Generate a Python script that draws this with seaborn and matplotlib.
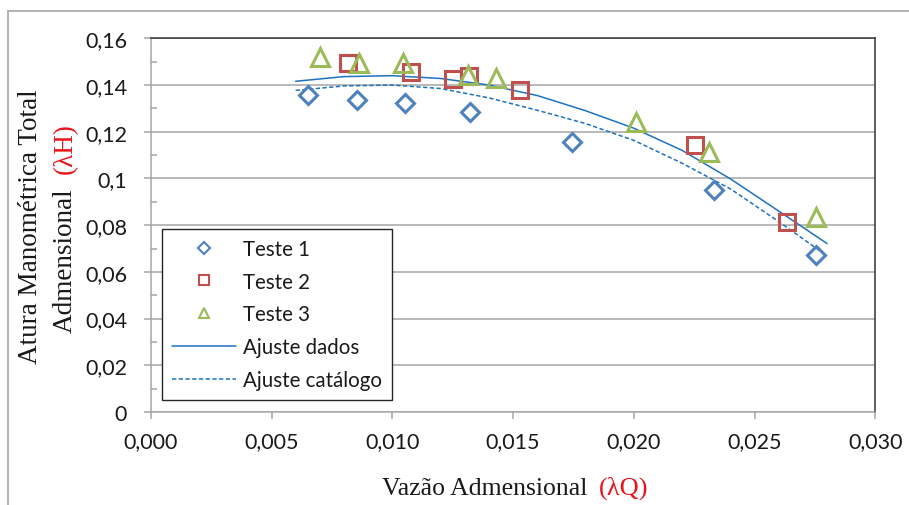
import matplotlib
matplotlib.use("Agg")
import matplotlib.pyplot as plt
import seaborn as sns
from matplotlib.lines import Line2D
from matplotlib.ticker import FixedLocator, FixedFormatter, MultipleLocator

# Measured points of the three pump tests (dimensionless flow x head)
q_teste1 = [0.00652, 0.00853, 0.01053, 0.01322, 0.01745, 0.02333, 0.02752]
h_teste1 = [0.1358, 0.1338, 0.1324, 0.1284, 0.1158, 0.0951, 0.0674]

q_teste2 = [0.00818, 0.01076, 0.01250, 0.01319, 0.01529, 0.02253, 0.02632]
h_teste2 = [0.1494, 0.1455, 0.1427, 0.1437, 0.1377, 0.1145, 0.0813]

q_teste3 = [0.00700, 0.00863, 0.01043, 0.01315, 0.01429, 0.02007, 0.02311, 0.02752]
h_teste3 = [0.1520, 0.1494, 0.1494, 0.1441, 0.1430, 0.1241, 0.1115, 0.0834]

# Fitted curves (data fit and catalogue fit)
q_ajuste = [0.006, 0.008, 0.010, 0.012, 0.014, 0.016, 0.018, 0.020, 0.022, 0.024, 0.026, 0.028]
h_ajuste_dados = [0.1416, 0.1436, 0.1440, 0.1428, 0.1400, 0.1355, 0.1290, 0.1215, 0.1120, 0.0998, 0.0860, 0.0721]
h_ajuste_catalogo = [0.1377, 0.1396, 0.1400, 0.1385, 0.1345, 0.1292, 0.1235, 0.1163, 0.1065, 0.0955, 0.0815, 0.0668]

x_ticks = [0.000, 0.005, 0.010, 0.015, 0.020, 0.025, 0.030]
x_tick_labels = ["0,000", "0,005", "0,010", "0,015", "0,020", "0,025", "0,030"]
y_ticks = [0.00, 0.02, 0.04, 0.06, 0.08, 0.10, 0.12, 0.14, 0.16]
y_tick_labels = ["0", "0,02", "0,04", "0,06", "0,08", "0,1", "0,12", "0,14", "0,16"]

sns.set_theme(style="white")
plt.rcParams['font.family'] = ['Lato', 'DejaVu Sans']

GRAY = '#A6A6A6'
TXT = '#1a1a1a'
FIT = '#1F72C0'
SERIF = ['Liberation Serif', 'DejaVu Serif']

fig = plt.figure(figsize=(9.09, 5.06), dpi=100)
fig.patch.set_facecolor('white')
ax = fig.add_axes([0.1658, 0.1838, 0.9631 - 0.1658, 0.9223 - 0.1838])

# fitted curves
sns.lineplot(x=q_ajuste, y=h_ajuste_dados, ax=ax, color=FIT, lw=1.1,
             estimator=None, sort=False, label='Ajuste dados', zorder=3)
sns.lineplot(x=q_ajuste, y=h_ajuste_catalogo, ax=ax, color=FIT, lw=1.1,
             linestyle=(0, (2.8, 1.6)), estimator=None, sort=False,
             label='Ajuste catálogo', zorder=3)

# measured points, open markers
sns.lineplot(x=q_teste1, y=h_teste1, ax=ax, color='#4F81BD', linestyle='',
             marker='D', markersize=8.9, mfc='none', mec='#4F81BD', mew=2.2,
             estimator=None, sort=False, label='Teste 1', zorder=4)
sns.lineplot(x=q_teste2, y=h_teste2, ax=ax, color='#C0504D', linestyle='',
             marker='s', markersize=12.2, mfc='none', mec='#C0504D', mew=2.2,
             estimator=None, sort=False, label='Teste 2', zorder=4)
sns.lineplot(x=q_teste3, y=h_teste3, ax=ax, color='#9BBB59', linestyle='',
             marker='^', markersize=12.4, mfc='none', mec='#9BBB59', mew=2.2,
             estimator=None, sort=False, label='Teste 3', zorder=4)

ax.set_xlim(0, 0.030)
ax.set_ylim(0, 0.16)
ax.set_xlabel('')
ax.set_ylabel('')

ax.xaxis.set_major_locator(FixedLocator(x_ticks))
ax.xaxis.set_major_formatter(FixedFormatter(x_tick_labels))
ax.yaxis.set_major_locator(FixedLocator(y_ticks))
ax.yaxis.set_major_formatter(FixedFormatter(y_tick_labels))
ax.yaxis.set_minor_locator(MultipleLocator(0.01))

ax.yaxis.grid(True, which='major', color=GRAY, lw=1.1)
ax.xaxis.grid(False)
ax.set_axisbelow(True)

for side in ('left', 'bottom'):
    ax.spines[side].set_color(GRAY)
    ax.spines[side].set_linewidth(1.1)
for side in ('top', 'right'):
    ax.spines[side].set_color('#333333')
    ax.spines[side].set_linewidth(1.1)

ax.tick_params(axis='y', which='major', direction='out', length=5, width=1.1,
               color=GRAY, pad=12, labelsize=15.5, labelcolor=TXT, left=True)
ax.tick_params(axis='y', which='minor', direction='in', length=4, width=1.1,
               color=GRAY, left=True)
ax.tick_params(axis='x', which='major', direction='out', length=5, width=1.1,
               color=GRAY, pad=9, labelsize=15.5, labelcolor=TXT, bottom=True)

# legend
handles, labels = ax.get_legend_handles_labels()
order = ['Teste 1', 'Teste 2', 'Teste 3', 'Ajuste dados', 'Ajuste catálogo']
hmap = dict(zip(labels, handles))
leg = ax.legend([hmap[k] for k in order], order, loc='upper left',
                bbox_to_anchor=(0.0156, 0.49), borderaxespad=0, fontsize=14.8,
                handlelength=3.1, handletextpad=0.36, labelspacing=0.62,
                borderpad=0.48, frameon=True, fancybox=False, framealpha=1)
leg.get_frame().set_edgecolor('#262626')
leg.get_frame().set_linewidth(1.0)
for t in leg.get_texts():
    t.set_color(TXT)
for h in leg.legend_handles[:3]:
    h.set_markersize(7.5 if h.get_marker() != 'D' else 6.0)
    h.set_markeredgewidth(1.5)

# axis titles, with the symbol part in red
tx = fig.text(382 / 909, 11 / 506, 'Vazão Admensional', family=SERIF,
              fontsize=18.5, color=TXT, ha='left', va='baseline')
ax.annotate('(λQ)', xy=(1, 0), xycoords=tx, xytext=(8.5, 0),
            textcoords='offset points', ha='left', va='bottom',
            family=SERIF, fontsize=19, color='#E8141C', annotation_clip=False)

fig.text(30.5 / 909, (506 - 227) / 506, 'Atura Manométrica Total', family=SERIF,
         fontsize=19.5, color=TXT, rotation=90, ha='center', va='center')
ty = fig.text(65.5 / 909, (506 - 333) / 506, 'Admensional', family=SERIF,
              fontsize=19.5, color=TXT, rotation=90, ha='center', va='bottom')
ax.annotate('(λH)', xy=(0.5, 1), xycoords=ty, xytext=(0, 10),
            textcoords='offset points', ha='center', va='bottom', rotation=90,
            family=SERIF, fontsize=19.5, color='#E8141C', annotation_clip=False)

# outer chart frame (left and top edges)
fig.add_artist(Line2D([8 / 909, 8 / 909], [0, 1 - 12 / 506], transform=fig.transFigure,
                      color=GRAY, lw=1.2))
fig.add_artist(Line2D([8 / 909, 1], [1 - 12 / 506, 1 - 12 / 506], transform=fig.transFigure,
                      color=GRAY, lw=1.2))

fig.savefig('out.png', dpi=100, facecolor='white')
